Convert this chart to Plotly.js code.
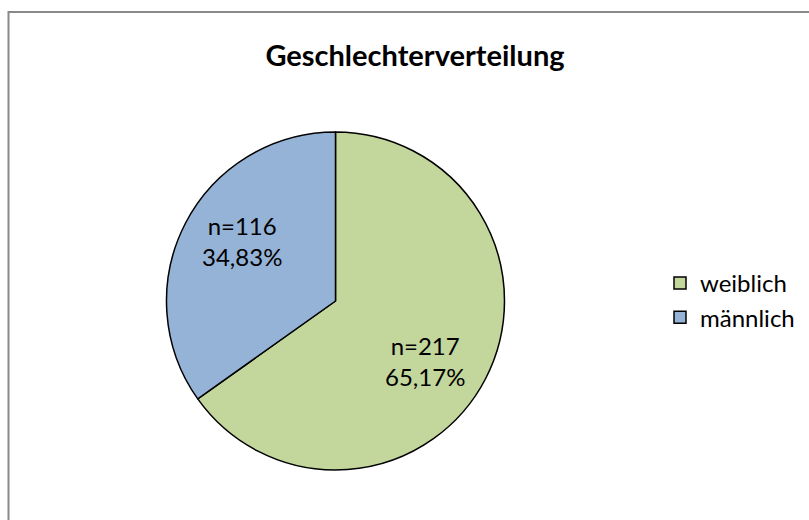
<!DOCTYPE html>
<html>
<head>
<meta charset="utf-8">
<script src="https://cdn.plot.ly/plotly-3.0.1.min.js"></script>
<style>
html,body{margin:0;padding:0;background:#fff;}
#chart{width:809px;height:520px;}
</style>
</head>
<body>
<div id="chart"></div>
<script>
const labels = ["weiblich", "männlich"];
const counts = [217, 116];
const percentText = ["65,17%", "34,83%"];
const colors = ["#C3D69B", "#95B3D7"];
const titleText = "Geschlechterverteilung";

const W = 809, H = 520;
const cx = 335.5, cy = 301, r = 169;
const FONT = "Lato, Carlito, Calibri, sans-serif";

const domX = [(cx - r) / W, (cx + r) / W];
const domY = [1 - (cy + r) / H, 1 - (cy - r) / H];

const trace = {
  type: "pie",
  labels: labels,
  values: counts,
  textinfo: "none",
  sort: false,
  direction: "clockwise",
  rotation: 0,
  marker: {colors: colors, line: {color: "#000", width: 1.5}},
  domain: {x: domX, y: domY},
  hoverinfo: "none"
};

// data labels placed along each slice's angular middle (derived from the values)
const total = counts.reduce((a, b) => a + b, 0);
const labelRadius = 0.65, angleShift = 6;
let cum = 0;
const annotations = counts.map((c, i) => {
  const mid = (cum + c / 2) / total * 360 + angleShift;
  cum += c;
  const a = mid * Math.PI / 180;
  const px = cx + labelRadius * r * Math.sin(a) - 2;
  const py = cy - labelRadius * r * Math.cos(a);
  return {
    xref: "paper", yref: "paper", x: px / W, y: 1 - py / H,
    xanchor: "center", yanchor: "middle", showarrow: false,
    text: "n=" + c + "<br>" + percentText[i],
    font: {family: FONT, size: 24, color: "#000"}
  };
});

const layout = {
  width: W, height: H,
  margin: {l: 0, r: 0, t: 0, b: 0},
  paper_bgcolor: "#fff",
  title: {text: "<b>" + titleText + "</b>", x: 415 / W, xanchor: "center", y: 1 - 56 / H, yanchor: "middle",
          font: {family: FONT, size: 29, color: "#000"}},
  showlegend: true,
  legend: {x: 660 / W, y: 1 - 261 / H, xanchor: "left", yanchor: "top",
           font: {family: FONT, size: 24, color: "#000"}, bgcolor: "rgba(0,0,0,0)"},
  annotations: annotations,
  shapes: [{type: "rect", xref: "paper", yref: "paper", x0: 8.5 / W, x1: 1.05, y0: -0.05, y1: 1 - 12 / H,
            line: {color: "#898989", width: 2}, fillcolor: "rgba(0,0,0,0)", layer: "below"}]
};

Plotly.newPlot("chart", [trace], layout, {displayModeBar: false, staticPlot: true});
</script>
</body>
</html>
